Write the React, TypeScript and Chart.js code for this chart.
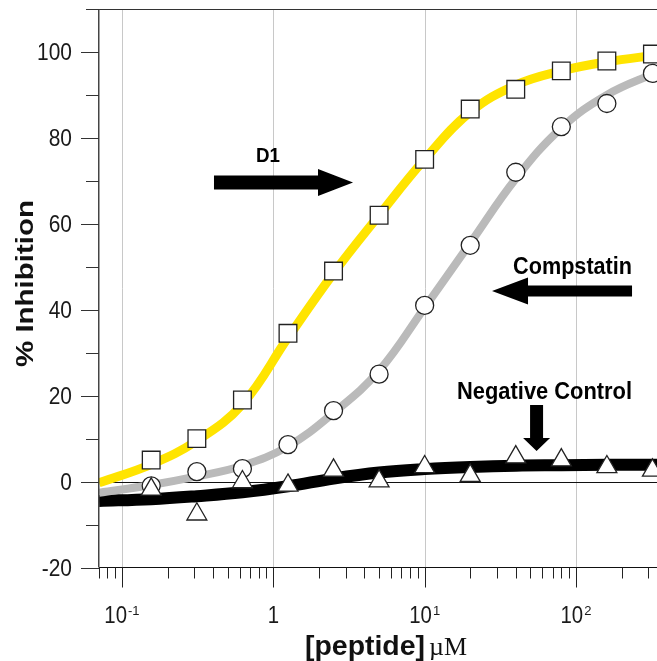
import { useEffect, useRef } from 'react';
import { Chart, registerables } from 'chart.js';

Chart.register(...registerables);

// ---- data ----
const dilutions = [0.156, 0.3125, 0.625, 1.25, 2.5, 5, 10, 20, 40, 80, 160, 320];
const d1Values = [5, 10, 19, 34.5, 49, 62, 75, 86.7, 91.3, 95.6, 97.9, 99.5];
const compstatinValues = [-1, 2.3, 3, 8.6, 16.5, 25, 41, 55, 72, 82.6, 88, 95];
const negativeValues = [-1.8, -7.6, -0.1, -0.9, 2.6, 0.1, 3.4, 1.4, 5.7, 5.0, 3.4, 2.6];

const fitX = [0.0705, 0.156, 0.3125, 0.625, 1.25, 2.5, 5, 10, 20, 40, 80, 160, 343];
const d1Fit = [-0.3, 4, 9.5, 18, 33.5, 48.5, 62, 75, 86, 92.3, 95.6, 97.7, 99.3];
const compstatinFit = [-2.6, -0.8, 1.2, 3.7, 8.2, 16, 25.8, 40.5, 55.5, 70.5, 82.3, 90, 95.3];
const negativeFit = [-4.5, -4.1, -3.4, -2.5, -1.1, 0.7, 2.1, 2.9, 3.4, 3.7, 3.8, 3.9, 3.9];

const xMin = 0.0705;
const xMax = 343;
const yMin = -20;
const yMax = 110;
const yMajorTicks = [-20, 0, 20, 40, 60, 80, 100];
const yMinorTicks = [-10, 10, 30, 50, 70, 90, 110];
const xDecadeTicks = [0.1, 1, 10, 100];
const xTickBase = ['10', '1', '10', '10'];
const xTickExp = ['-1', '', '1', '2'];
const xMinorDecades = [0.01, 0.1, 1, 10, 100];
const xMinorMultipliers = [2, 3, 4, 5, 6, 7, 8, 9];

const yTitle = '% Inhibition';
const xTitleMain = '[peptide]';
const xTitleUnit = 'µM';
const d1Label = 'D1';
const compLabel = 'Compstatin';
const negLabel = 'Negative Control';

// annotation anchors in data units
const d1LabelPos = { x: 0.923, y: 74.4 };
const d1Arrow = { tail: 0.4055, base: 1.974, tip: 3.363, y: 69.6 };
const compLabelPos = { x: 94.9, y: 48.4 };
const compArrow = { tail: 234.6, base: 48.2, tip: 27.87, y: 44.36 };
const negLabelPos = { x: 61.97, y: 19.22 };
const negArrow = { x: 54.9, top: 17.82, base: 10.14, tip: 7.11 };

const SANS = '"Liberation Sans", Arial, sans-serif';
const SERIF = '"Liberation Serif", "Times New Roman", serif';

function drawText(
  ctx: CanvasRenderingContext2D,
  s: string,
  x: number,
  y: number,
  font: string,
  opts: { align?: string; width?: number; sx?: number; sy?: number; rotate?: number } = {}
) {
  ctx.save();
  ctx.font = font;
  ctx.textBaseline = 'alphabetic';
  ctx.textAlign = 'left';
  const w = ctx.measureText(s).width;
  let sx = opts.sx ?? 1;
  if (opts.width) sx = opts.width / w;
  ctx.translate(x, y);
  if (opts.rotate) ctx.rotate(opts.rotate);
  ctx.scale(sx, opts.sy ?? 1);
  const align = opts.align ?? 'left';
  const dx = align === 'center' ? -w / 2 : align === 'right' ? -w : 0;
  ctx.fillText(s, dx, 0);
  ctx.restore();
  return w * sx;
}

function seg(ctx: CanvasRenderingContext2D, x1: number, y1: number, x2: number, y2: number) {
  ctx.beginPath();
  ctx.moveTo(x1, y1);
  ctx.lineTo(x2, y2);
  ctx.stroke();
}

const framePlugin = {
  id: 'frame',
  beforeDatasetsDraw(chart: any) {
    const { ctx, chartArea: a, scales } = chart;
    const x = scales.x;
    const y = scales.y;
    ctx.save();
    ctx.strokeStyle = '#c8c8c8';
    ctx.lineWidth = 1;
    for (const v of xDecadeTicks) {
      const px = Math.round(x.getPixelForValue(v)) + 0.5;
      seg(ctx, px, a.top, px, a.bottom);
    }
    ctx.strokeStyle = '#111';
    const py = Math.round(y.getPixelForValue(0)) + 0.5;
    seg(ctx, a.left, py, a.right, py);
    ctx.restore();
  },
  afterDatasetsDraw(chart: any) {
    const { ctx, chartArea: a, scales } = chart;
    const x = scales.x;
    const y = scales.y;
    ctx.save();
    // frame
    ctx.strokeStyle = '#333';
    ctx.lineWidth = 1;
    seg(ctx, a.left, a.top + 0.5, a.right, a.top + 0.5);
    ctx.strokeStyle = '#111';
    seg(ctx, a.left, a.bottom, a.right, a.bottom);
    ctx.strokeStyle = '#444';
    ctx.lineWidth = 1.5;
    seg(ctx, a.left - 0.25, a.top, a.left - 0.25, a.bottom);

    // y ticks
    ctx.lineWidth = 1;
    ctx.strokeStyle = '#333';
    for (const v of yMajorTicks) {
      const py = Math.round(y.getPixelForValue(v)) + 0.5;
      seg(ctx, a.left - 18, py, a.left, py);
    }
    for (const v of yMinorTicks) {
      const py = Math.round(y.getPixelForValue(v)) + 0.5;
      seg(ctx, a.left - 13, py, a.left, py);
    }
    // x ticks
    ctx.strokeStyle = '#222';
    for (const v of xDecadeTicks) {
      const px = Math.round(x.getPixelForValue(v)) + 0.5;
      seg(ctx, px, a.bottom, px, a.bottom + 20);
    }
    for (const d of xMinorDecades) {
      for (const m of xMinorMultipliers) {
        const v = d * m;
        if (v < xMin * 0.99 || v > xMax) continue;
        const px = Math.round(x.getPixelForValue(v)) + 0.5;
        seg(ctx, px, a.bottom, px, a.bottom + 11);
      }
    }

    // tick labels
    ctx.fillStyle = '#1a1a1a';
    for (const v of yMajorTicks) {
      const py = y.getPixelForValue(v);
      drawText(ctx, String(v), a.left - 27, py + 8.4, `23px ${SANS}`, { align: 'right', sx: 0.91, sy: 1.03 });
    }
    xDecadeTicks.forEach((v, i) => {
      const px = x.getPixelForValue(v);
      ctx.font = `24px ${SANS}`;
      const wb = ctx.measureText(xTickBase[i]).width * 0.85;
      ctx.font = `13px ${SANS}`;
      const ws = xTickExp[i] ? ctx.measureText(xTickExp[i]).width + 1 : 0;
      const start = px - (wb + ws) / 2;
      drawText(ctx, xTickBase[i], start, a.bottom + 55.5, `24px ${SANS}`, { sx: 0.85 });
      if (xTickExp[i]) drawText(ctx, xTickExp[i], start + wb + 1, a.bottom + 47, `13px ${SANS}`);
    });

    // axis titles
    ctx.fillStyle = '#111';
    drawText(ctx, yTitle, 33, 283.5, `bold 24px ${SANS}`, { align: 'center', width: 167, rotate: -Math.PI / 2 });
    drawText(ctx, xTitleMain, 305, 655, `bold 27px ${SANS}`, { width: 120 });
    drawText(ctx, xTitleUnit, 429, 655, `26px ${SERIF}`, { width: 38 });

    // annotations
    ctx.fillStyle = '#000';
    drawText(ctx, d1Label, x.getPixelForValue(d1LabelPos.x), y.getPixelForValue(d1LabelPos.y), `bold 21px ${SANS}`, { align: 'center', width: 24 });
    drawText(ctx, compLabel, x.getPixelForValue(compLabelPos.x), y.getPixelForValue(compLabelPos.y), `bold 23px ${SANS}`, { align: 'center', width: 119 });
    drawText(ctx, negLabel, x.getPixelForValue(negLabelPos.x), y.getPixelForValue(negLabelPos.y), `bold 23px ${SANS}`, { align: 'center', width: 175 });

    // D1 arrow (right)
    {
      const yc = y.getPixelForValue(d1Arrow.y);
      const t = x.getPixelForValue(d1Arrow.tail);
      const b = x.getPixelForValue(d1Arrow.base);
      const p = x.getPixelForValue(d1Arrow.tip);
      ctx.beginPath();
      ctx.moveTo(t, yc - 7);
      ctx.lineTo(b, yc - 7);
      ctx.lineTo(b, yc - 13.5);
      ctx.lineTo(p, yc);
      ctx.lineTo(b, yc + 13.5);
      ctx.lineTo(b, yc + 7);
      ctx.lineTo(t, yc + 7);
      ctx.closePath();
      ctx.fill();
    }
    // Compstatin arrow (left)
    {
      const yc = y.getPixelForValue(compArrow.y);
      const t = x.getPixelForValue(compArrow.tail);
      const b = x.getPixelForValue(compArrow.base);
      const p = x.getPixelForValue(compArrow.tip);
      ctx.beginPath();
      ctx.moveTo(t, yc - 5.5);
      ctx.lineTo(b, yc - 5.5);
      ctx.lineTo(b, yc - 13.5);
      ctx.lineTo(p, yc);
      ctx.lineTo(b, yc + 13.5);
      ctx.lineTo(b, yc + 5.5);
      ctx.lineTo(t, yc + 5.5);
      ctx.closePath();
      ctx.fill();
    }
    // Negative control arrow (down)
    {
      const xc = x.getPixelForValue(negArrow.x);
      const t = y.getPixelForValue(negArrow.top);
      const b = y.getPixelForValue(negArrow.base);
      const p = y.getPixelForValue(negArrow.tip);
      ctx.beginPath();
      ctx.moveTo(xc - 6.5, t);
      ctx.lineTo(xc - 6.5, b);
      ctx.lineTo(xc - 13.5, b);
      ctx.lineTo(xc, p);
      ctx.lineTo(xc + 13.5, b);
      ctx.lineTo(xc + 6.5, b);
      ctx.lineTo(xc + 6.5, t);
      ctx.closePath();
      ctx.fill();
    }
    ctx.restore();
  },
};

function pts(xs: number[], ys: number[]) {
  return xs.map((v, i) => ({ x: v, y: ys[i] }));
}

export default function App() {
  const ref = useRef<HTMLCanvasElement | null>(null);
  useEffect(() => {
    if (!ref.current) return;
    const lineBase = {
      type: 'line' as const,
      pointRadius: 0,
      fill: false,
      tension: 0.4,
      clip: 0,
      borderCapStyle: 'butt' as const,
      borderJoinStyle: 'round' as const,
    };
    const markerBase = {
      type: 'line' as const,
      showLine: false,
      pointBackgroundColor: '#ffffff',
      pointBorderColor: '#222222',
      pointBorderWidth: 1.3,
      clip: false as any,
    };
    const chart = new Chart(ref.current, {
      type: 'line',
      data: {
        datasets: [
          { ...lineBase, label: 'Negative fit', data: pts(fitX, negativeFit), borderColor: '#000000', borderWidth: 12, order: 6 },
          { ...lineBase, label: 'Compstatin fit', data: pts(fitX, compstatinFit), borderColor: '#bababa', borderWidth: 8, order: 5 },
          { ...lineBase, label: 'D1 fit', data: pts(fitX, d1Fit), borderColor: '#ffe400', borderWidth: 9, order: 4 },
          { ...markerBase, label: 'D1', data: pts(dilutions, d1Values), pointStyle: 'rect', pointRadius: 12.5, order: 3 },
          { ...markerBase, label: 'Compstatin', data: pts(dilutions, compstatinValues), pointStyle: 'circle', pointRadius: 9, order: 2 },
          { ...markerBase, label: 'Negative Control', data: pts(dilutions, negativeValues), pointStyle: 'triangle', pointRadius: 11.5, order: 1 },
        ] as any,
      },
      options: {
        responsive: false,
        animation: false,
        events: [],
        layout: { autoPadding: false, padding: { left: 99, top: 9, right: 0, bottom: 93.5 } },
        plugins: { legend: { display: false }, tooltip: { enabled: false }, title: { display: false } },
        scales: {
          x: { type: 'logarithmic', min: xMin, max: xMax, bounds: 'data', display: false },
          y: { type: 'linear', min: yMin, max: yMax, display: false },
        },
      },
      plugins: [framePlugin],
    });
    return () => chart.destroy();
  }, []);
  return (
    <div style={{ position: 'absolute', left: 0, top: 0, width: 657, height: 661, background: '#fff' }}>
      <canvas ref={ref} width={657} height={661} />
    </div>
  );
}
